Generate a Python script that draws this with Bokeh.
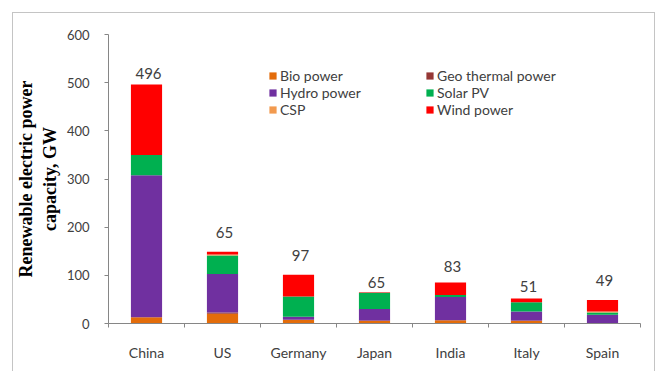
from bokeh.plotting import figure
from bokeh.models import (ColumnDataSource, FixedTicker, Legend, LegendItem,
                          Range1d, InlineStyleSheet)
from bokeh.core.properties import value
from bokeh.embed import file_html
from bokeh.resources import INLINE

countries = ["China", "US", "Germany", "Japan", "India", "Italy", "Spain"]
bio = [13, 20, 8, 5, 7, 5, 1]
geo = [0, 3, 0, 1, 0, 1, 0]
hydro = [295, 80, 6, 24, 48, 19, 17]
solar = [42, 38, 42, 34, 4, 19, 5]
csp = [0, 2, 0, 0, 0, 0, 2]
wind = [146, 6, 45, 1, 26, 8, 24]
total_labels = ["496", "65", "97", "65", "83", "51", "49"]
# vertical placement of the total labels (data units), as in the original
label_y = [519, 189, 141, 86, 119, 77, 89]

series = ["Bio power", "Geo thermal power", "Hydro power", "Solar PV", "CSP", "Wind power"]
keys = ["bio", "geo", "hydro", "solar", "csp", "wind"]
colors = ["#E36C0A", "#953735", "#7030A0", "#00B050", "#F29A4F", "#FF0000"]

x = [i + 0.5 for i in range(len(countries))]
src = ColumnDataSource(dict(x=x, bio=bio, geo=geo, hydro=hydro, solar=solar,
                            csp=csp, wind=wind, lab=total_labels, ly=label_y))

frame_css = InlineStyleSheet(css="""
:host::after {
  content: "";
  position: absolute;
  left: 12px; top: 12px; width: 641px; height: 400px;
  border: 1px solid #c4c4c4;
  pointer-events: none;
}
""")

p = figure(width=662, height=371, output_backend="svg", toolbar_location=None,
           x_range=Range1d(0, len(countries)), y_range=Range1d(0, 600),
           min_border_left=108, min_border_right=22, min_border_top=34,
           min_border_bottom=48, stylesheets=[frame_css])
p.outline_line_color = None
p.grid.visible = False
p.background_fill_color = "white"
p.border_fill_color = "white"

rs = p.vbar_stack(keys, x="x", width=0.41, source=src, color=colors,
                  line_color=None)

p.text(x="x", y="ly", text="lab", source=src, text_align="center",
       text_baseline="middle", text_font=value("Lato"), text_font_size="15px",
       text_color="#404040", x_offset=2)

# y axis
ya = p.yaxis[0]
ya.ticker = FixedTicker(ticks=[0, 100, 200, 300, 400, 500, 600])
ya.axis_line_color = "#868686"
ya.major_tick_line_color = "#868686"
ya.major_tick_out = 4
ya.major_tick_in = 0
ya.minor_tick_line_color = None
ya.major_label_text_font = "Lato"
ya.major_label_text_font_size = "13px"
ya.major_label_text_color = "#404040"
ya.major_label_standoff = 15
ya.axis_label = "Renewable electric power\ncapacity, GW"
ya.axis_label_text_font = "Liberation Serif"
ya.axis_label_text_font_style = "bold"
ya.axis_label_text_font_size = "18px"
ya.axis_label_text_color = "#000000"
ya.axis_label_standoff = 4

# x axis
xa = p.xaxis[0]
xa.ticker = FixedTicker(ticks=x, minor_ticks=list(range(len(countries) + 1)))
xa.major_label_overrides = {v: c for v, c in zip(x, countries)}
xa.axis_line_color = "#868686"
xa.major_tick_line_color = None
xa.minor_tick_line_color = "#868686"
xa.minor_tick_out = 4
xa.minor_tick_in = 0
xa.major_label_text_font = "Lato"
xa.major_label_text_font_size = "14px"
xa.major_label_text_color = "#404040"
xa.major_label_standoff = 14

items = [LegendItem(label=s, renderers=[r]) for s, r in zip(series, rs)]
leg = Legend(items=items, location=(160, 205), orientation="horizontal", ncols=2,
             border_line_color=None, background_fill_alpha=0, padding=0, margin=0,
             spacing=0, glyph_width=9, glyph_height=9, label_standoff=3,
             label_width=145, label_height=17,
             label_text_font="Lato", label_text_font_size="14px",
             label_text_color="#404040")
p.add_layout(leg)

open("out.html", "w").write(file_html(p, INLINE))
